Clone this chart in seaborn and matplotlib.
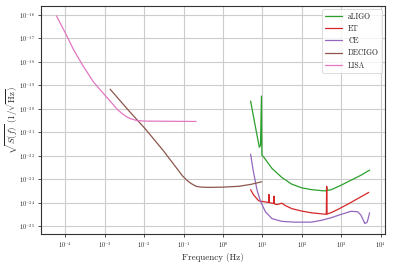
import numpy as np
import pandas as pd
import matplotlib
matplotlib.use('Agg')
import matplotlib.pyplot as plt
import matplotlib.ticker as mticker
import seaborn as sns

# Detector sensitivity curves
aligo_f = [5.0, 6.38, 8.32, 8.91, 9.44, 9.66, 10.7, 17.4, 30.9, 55, 98.9, 176,
           355, 417, 427, 437, 562, 1000, 1778, 3162, 5248]
aligo_s = [2.14e-20, 2.4e-21, 2.3e-22, 2.8e-22, 3.5e-20, 1.07e-22, 8.9e-23, 2.9e-23,
           1.2e-23, 6.2e-24, 4.3e-24, 3.6e-24, 3.2e-24, 3.2e-24, 4.5e-24, 3.3e-24,
           3.6e-24, 5.6e-24, 9.1e-24, 1.48e-23, 2.45e-23]

et_f = [5.0, 6.0, 8.05, 14.4, 14.6, 15.0, 19.2, 19.6, 20.0, 23.2, 30.9, 37.8, 55.3,
        98.9, 176, 417, 427, 437, 562, 828, 1479, 2630, 4989]
et_s = [3.6e-24, 2.1e-24, 1.2e-24, 1.02e-24, 2.24e-24, 1.0e-24, 9.3e-25, 1.9e-24,
        8.9e-25, 8.3e-25, 9.5e-25, 7.6e-25, 5.6e-25, 4.4e-25, 3.7e-25, 3.2e-25,
        5.0e-24, 3.3e-25, 3.8e-25, 5.2e-25, 8.7e-25, 1.5e-24, 2.75e-24]

ce_f = [5.0, 5.8, 7.3, 8.9, 11.9, 17.4, 30.9, 67.6, 176, 316, 562, 1000, 1778,
        2630, 3162, 3981, 4571, 5248]
ce_s = [1.17e-22, 2.45e-23, 3.4e-24, 1.15e-24, 4.1e-25, 2.1e-25, 1.6e-25, 1.48e-25,
        1.48e-25, 1.78e-25, 2.3e-25, 3.2e-25, 4.3e-25, 4.1e-25, 2.95e-25, 1.29e-25,
        1.5e-25, 3.7e-25]

decigo_f = [1.355e-3, 4.3e-3, 1.03e-2, 2.97e-2, 9.46e-2, 0.126, 0.154, 0.206, 0.28,
            0.445, 1.0, 2.5, 5.0, 9.55]
decigo_s = [6.9e-20, 7.4e-21, 1.48e-21, 1.74e-22, 1.35e-23, 8.5e-24, 6.6e-24, 5.0e-24,
            4.6e-24, 4.5e-24, 4.6e-24, 5.0e-24, 6.0e-24, 7.8e-24]

lisa_f = [5.9e-5, 1e-4, 1.62e-4, 2.88e-4, 5.1e-4, 9.1e-4, 1.66e-3, 2.09e-3, 2.67e-3,
          3.4e-3, 4.3e-3, 6.3e-3, 1.03e-2, 0.206]
lisa_s = [9.1e-17, 1.66e-17, 3.2e-18, 6.2e-19, 1.41e-19, 4.6e-20, 1.45e-20, 9.3e-21,
          6.5e-21, 4.8e-21, 3.9e-21, 3.2e-21, 3.0e-21, 2.9e-21]

detectors = ['aLIGO', 'ET', 'CE', 'DECIGO', 'LISA']
colors = ['#2ca02c', '#d62728', '#9467bd', '#8c564b', '#e377c2']

x_ticks = [1e-4, 1e-3, 1e-2, 1e-1, 1e0, 1e1, 1e2, 1e3, 1e4]
y_ticks = [1e-25, 1e-24, 1e-23, 1e-22, 1e-21, 1e-20, 1e-19, 1e-18, 1e-17, 1e-16]

frames = []
for name, f, s in zip(detectors,
                      [aligo_f, et_f, ce_f, decigo_f, lisa_f],
                      [aligo_s, et_s, ce_s, decigo_s, lisa_s]):
    frames.append(pd.DataFrame({'f': f, 'S': s, 'detector': name}))
df = pd.concat(frames, ignore_index=True)

sns.set_style('whitegrid', {'axes.edgecolor': '#333333', 'grid.color': '#cccccc',
                            'xtick.bottom': True, 'ytick.left': True})
plt.rcParams['font.family'] = 'serif'
plt.rcParams['font.serif'] = ['cmr10', 'DejaVu Serif']
plt.rcParams['mathtext.fontset'] = 'cm'
plt.rcParams['axes.formatter.use_mathtext'] = True
plt.rcParams['axes.unicode_minus'] = False

fig = plt.figure(figsize=(3.95, 2.63), dpi=100)
ax = fig.add_axes([0.104, 0.110, 0.871, 0.867])
ax.set_xscale('log')
ax.set_yscale('log')

sns.lineplot(data=df, x='f', y='S', hue='detector', hue_order=detectors,
             palette=dict(zip(detectors, colors)), estimator=None, sort=False,
             linewidth=0.9, ax=ax)

ax.set_xlim(2.4e-5, 1.3e4)
ax.set_ylim(4.6e-26, 2.4e-16)
ax.set_xticks(x_ticks)
ax.set_yticks(y_ticks)
ax.xaxis.set_minor_locator(mticker.NullLocator())
ax.yaxis.set_minor_locator(mticker.NullLocator())
ax.tick_params(labelsize=4.5, length=2.5, width=0.6, color='#333333', pad=2)
ax.grid(True, color='#cccccc', linewidth=0.8)
for sp in ax.spines.values():
    sp.set_linewidth(0.8)

ax.set_xlabel('Frequency (Hz)', fontsize=6.5, labelpad=2)
ax.set_ylabel(r'$\sqrt{S(f)}$ $(1/\sqrt{\rm Hz})$', fontsize=6.5)
ax.yaxis.set_label_coords(-0.062, 0.5)

leg = ax.legend(loc='upper right', fontsize=5.5, frameon=True, handlelength=2.2,
                borderaxespad=0.4)
leg.get_frame().set_linewidth(0.6)

fig.savefig('out.png', dpi=100)
